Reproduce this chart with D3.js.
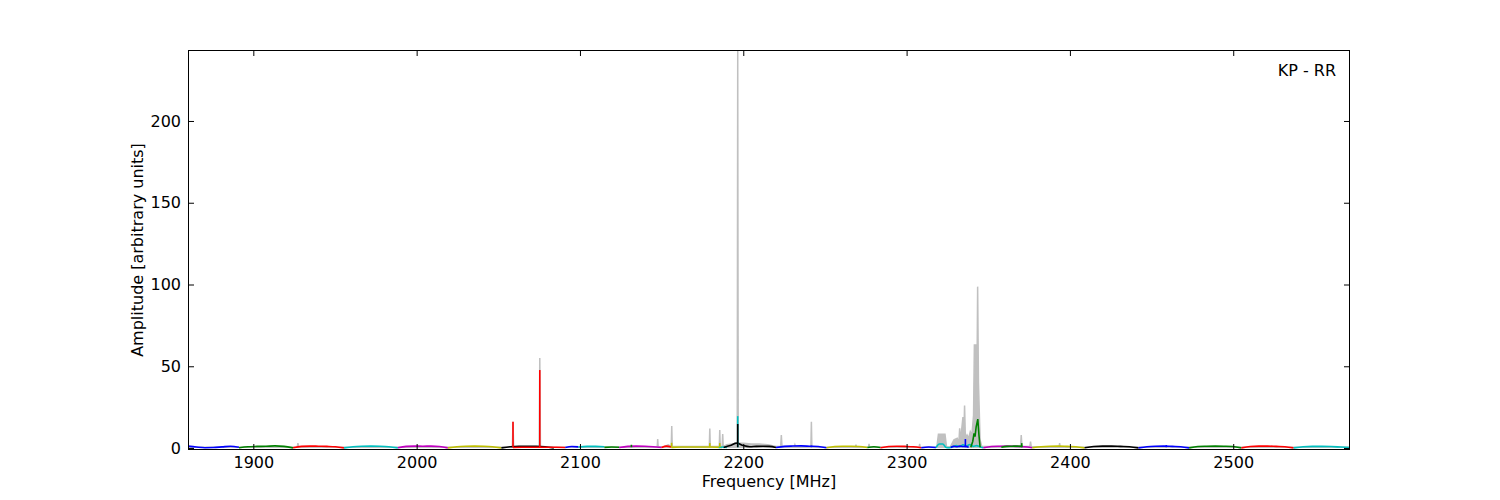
<!DOCTYPE html>
<html><head><meta charset="utf-8">
<script src="https://cdn.jsdelivr.net/npm/d3@7"></script>
<style>body{margin:0;background:#fff} svg{display:block} text{font-family:"DejaVu Sans",sans-serif;fill:#000}</style>
</head><body><svg id="c" width="1500" height="500"></svg>
<script>
// ---- data ----
const xTicks = [1900, 2000, 2100, 2200, 2300, 2400, 2500];
const yTicks = [0, 50, 100, 150, 200];
const xDomain = [1860, 2571.5];
const yDomain = [-1.2, 243.4];
const labelText = "KP - RR";

// full spectrum (grey)
const grayFreq = [1860, 1926.9, 1927.3, 1927.8, 2058.6, 2059.0, 2059.4, 2075.0, 2075.4, 2075.8,
  2147.3, 2147.6, 2147.9, 2152, 2154, 2155.9, 2156.2, 2156.5, 2179.2, 2179.5, 2179.8,
  2185.3, 2185.6, 2185.9, 2187.1, 2187.4, 2187.7, 2190, 2193, 2196.3, 2196.6, 2196.9, 2200, 2205, 2210, 2215, 2220,
  2222.9, 2223.3, 2223.7, 2231.3, 2231.6, 2231.9, 2241.4, 2241.7, 2242.0, 2268.7, 2269, 2269.3, 2276.7, 2277, 2277.3,
  2307.7, 2308, 2308.3, 2318.5, 2319.5, 2323.5, 2324.5, 2327, 2329, 2331, 2332, 2332.5, 2333, 2334.5, 2335,
  2335.5, 2336, 2337, 2338, 2339, 2340, 2341, 2341.5, 2342.5, 2343, 2343.5, 2344, 2345, 2346,
  2369.8, 2370.2, 2370.6, 2375.5, 2375.9, 2376.3, 2393.4, 2393.7, 2394.0, 2571.5];
const grayAmp = [0.5, 0.5, 3, 0.5, 0.5, 16, 0.5, 0.5, 55, 0.5,
  0.5, 5.5, 0.8, 1, 2, 1, 13.5, 1, 1, 12, 1,
  1, 11, 1, 1, 8.5, 1, 2, 2.5, 3, 243.4, 3, 3, 2.5, 2.5, 2, 1,
  1, 8, 1, 1, 2, 1, 0.5, 16, 0.5, 0.5, 2, 0.5, 0.5, 2.5, 0.5,
  0.5, 2.5, 0.5, 0.5, 8.5, 8.5, 0.5, 1, 5, 6, 3, 12, 4, 19, 5,
  26, 6, 8, 6, 10, 8, 20, 63, 63, 30, 98.7, 40, 5, 1,
  1, 8, 1, 1, 4, 1, 0.5, 3, 0.5, 0.5];

// sub-band spectra (coloured), levels evenly spaced between start and end
const bandStart = [1860, 1891.2, 1924.3, 1955.5, 1988.5, 2019.1, 2051.9, 2059, 2091, 2099, 2115, 2124, 2150, 2156, 2185, 2188,
  2220, 2251, 2276, 2284, 2309, 2318, 2327, 2347, 2358, 2377, 2409, 2442, 2473, 2505, 2537];
const bandEnd = [1891.2, 1924.3, 1955.5, 1988.5, 2019.1, 2051.9, 2084, 2091, 2099, 2115, 2124, 2150, 2156, 2187, 2190, 2220,
  2251, 2276, 2284, 2309, 2318, 2347, 2338, 2377, 2371, 2409, 2442, 2473, 2505, 2537, 2571.5];
const bandColor = ["b", "g", "r", "c", "m", "y", "k", "r", "b", "c", "g", "m", "r", "y", "c", "k",
  "b", "y", "g", "r", "b", "c", "b", "m", "g", "y", "k", "b", "g", "r", "c"];
const bandLevels = [
  [1.2, 0.6, 0.2, 0.3, 0.7, 1.1, 0.5],
  [0.2, 0.8, 1.0, 1.1, 1.3, 1.0, 0.1],
  [0.2, 1.0, 1.2, 1.1, 1.0, 0.8, 0.1],
  [0.1, 0.8, 1.1, 1.2, 1.1, 0.8, 0.1],
  [0.2, 1.0, 1.2, 1.1, 1.2, 0.9, 0.1],
  [0.1, 0.8, 1.1, 1.2, 1.1, 0.8, 0.1],
  [0.1, 0.8, 1.0, 1.0, 1.0, 0.8, 0.1],
  [0.3, 0.5, 0.5, 0.5, 0.5, 0.5, 0.3],
  [0.3, 0.9, 0.7],
  [0.6, 1.0, 1.0, 0.8],
  [0.4, 0.6, 0.5],
  [0.3, 1.0, 1.2, 1.1, 0.8, 0.3],
  [0.4, 1.2, 0.6],
  [0.4, 0.6, 0.6, 0.6, 0.6, 0.4],
  [0.3, 0.6, 0.3],
  [0.3, 1.5, 3.0, 1.5, 0.8, 1.0, 1.1, 1.0, 0.3],
  [0.3, 1.0, 1.2, 1.3, 1.1, 0.9, 0.2],
  [0.2, 0.9, 1.1, 1.1, 0.9, 0.3],
  [0.3, 0.8, 0.3],
  [0.2, 0.9, 1.1, 1.0, 0.8, 0.2],
  [0.2, 0.6, 0.3],
  [0.2, 2.5, 2.5, 0.3, 0.2, 0.8, 1.5, 0.8, 2.0, 1.2, 2.2, 1.0, 1.5, 0.8, 0.2],
  [0.3, 1.0, 0.8, 1.2, 0.9, 1.0, 0.5],
  [0.2, 0.9, 1.1, 1.2, 1.0, 0.8, 0.2],
  [0.5, 1.0, 1.1, 1.2, 1.0],
  [0.2, 0.8, 1.1, 1.2, 1.0, 0.8, 0.1],
  [0.2, 0.9, 1.2, 1.2, 1.0, 0.8, 0.1],
  [0.1, 0.8, 1.1, 1.2, 1.0, 0.8, 0.1],
  [0.1, 0.9, 1.1, 1.2, 1.1, 0.9, 0.1],
  [0.1, 0.9, 1.2, 1.2, 1.0, 0.8, 0.1],
  [0.1, 0.8, 1.0, 1.0, 0.9, 0.6, 0.3]
];

// narrow coloured spikes
const spikeFreq = [2059.0, 2075.4, 2131.5, 2156.1, 2179.5, 2185.6, 2196.6, 2196.6, 2241.7, 2336.0, 2370.5, 2459.0];
const spikeAmp = [16, 47.7, 2, 3.2, 3, 3, 19.5, 14.7, 1.5, 5.5, 3, 1.8];
const spikeColor = ["r", "r", "g", "y", "y", "y", "c", "k", "b", "b", "g", "b"];

// broader green feature near 2343 MHz
const greenPeakFreq = [2339.3, 2340.5, 2341.3, 2341.9, 2342.6, 2343.6, 2344.3, 2345];
const greenPeakAmp = [0.5, 4, 9, 7, 13, 17.7, 8, 0.5];

// ---- drawing ----
const colorMap = {b: "#0000ff", g: "#008000", r: "#ff0000", c: "#00bfbf", m: "#bf00bf", y: "#bfbf00", k: "#000000"};
const L = 188, R = 1350, T = 50, B = 450;
const svg = d3.select("#c");
const x = d3.scaleLinear().domain(xDomain).range([L, R]);
const y = d3.scaleLinear().domain(yDomain).range([B, T]);

svg.append("defs").append("clipPath").attr("id", "clip")
  .append("rect").attr("x", L).attr("y", T).attr("width", R - L).attr("height", B - T);
const plot = svg.append("g").attr("clip-path", "url(#clip)");

// grey full spectrum
const grayPts = grayFreq.map((f, i) => [f, grayAmp[i]]);
plot.append("path").datum(grayPts)
  .attr("d", d3.area().x(d => x(d[0])).y0(y(0)).y1(d => y(d[1])))
  .attr("fill", "#c0c0c0");
plot.append("path").datum(grayPts)
  .attr("d", d3.line().x(d => x(d[0])).y(d => y(d[1])))
  .attr("fill", "none").attr("stroke", "#c0c0c0").attr("stroke-width", 1.5);

// coloured bands
bandStart.forEach((s, i) => {
  const lv = bandLevels[i];
  const e = bandEnd[i];
  const pts = lv.map((v, j) => [s + (e - s) * j / (lv.length - 1), v]);
  plot.append("path").datum(pts)
    .attr("d", d3.line().x(d => x(d[0])).y(d => y(d[1])).curve(d3.curveMonotoneX))
    .attr("fill", "none").attr("stroke", colorMap[bandColor[i]]).attr("stroke-width", 1.6);
});

// spikes
spikeFreq.forEach((f, i) => {
  plot.append("line")
    .attr("x1", x(f)).attr("x2", x(f)).attr("y1", y(0.5)).attr("y2", y(spikeAmp[i]))
    .attr("stroke", colorMap[spikeColor[i]]).attr("stroke-width", 1.6);
});

// green feature
plot.append("path").datum(greenPeakFreq.map((f, i) => [f, greenPeakAmp[i]]))
  .attr("d", d3.line().x(d => x(d[0])).y(d => y(d[1])))
  .attr("fill", "none").attr("stroke", colorMap.g).attr("stroke-width", 1.6);

// frame
svg.append("rect").attr("x", L + 0.5).attr("y", T + 0.5).attr("width", R - L - 1).attr("height", B - T - 1)
  .attr("fill", "none").attr("stroke", "#000").attr("stroke-width", 1);

// ticks (inside, both sides)
const tk = 6;
const fmt = d3.format("d");
const axB = svg.append("g").attr("transform", `translate(0,${B})`)
  .call(d3.axisBottom(x).tickValues(xTicks).tickFormat(fmt).tickSizeInner(-tk).tickSizeOuter(0).tickPadding(7));
const axT = svg.append("g").attr("transform", `translate(0,${T})`)
  .call(d3.axisTop(x).tickValues(xTicks).tickSizeInner(-tk).tickSizeOuter(0).tickFormat(""));
const axL = svg.append("g").attr("transform", `translate(${L},0)`)
  .call(d3.axisLeft(y).tickValues(yTicks).tickFormat(fmt).tickSizeInner(-tk).tickSizeOuter(0).tickPadding(7));
const axR = svg.append("g").attr("transform", `translate(${R},0)`)
  .call(d3.axisRight(y).tickValues(yTicks).tickSizeInner(-tk).tickSizeOuter(0).tickFormat(""));
[axB, axT, axL, axR].forEach(a => {
  a.select(".domain").remove();
  a.selectAll("line").attr("stroke", "#000");
  a.selectAll("text").attr("font-family", '"DejaVu Sans", sans-serif').attr("font-size", 16).attr("fill", "#000");
});

// labels
svg.append("text").attr("x", (L + R) / 2).attr("y", 487).attr("text-anchor", "middle")
  .attr("font-size", 16).text("Frequency [MHz]");
svg.append("text").attr("transform", `translate(143,${(T + B) / 2}) rotate(-90)`).attr("text-anchor", "middle")
  .attr("font-size", 16).text("Amplitude [arbitrary units]");
svg.append("text").attr("x", 1336).attr("y", 76).attr("text-anchor", "end")
  .attr("font-size", 16).text(labelText);
</script>
</body></html>
